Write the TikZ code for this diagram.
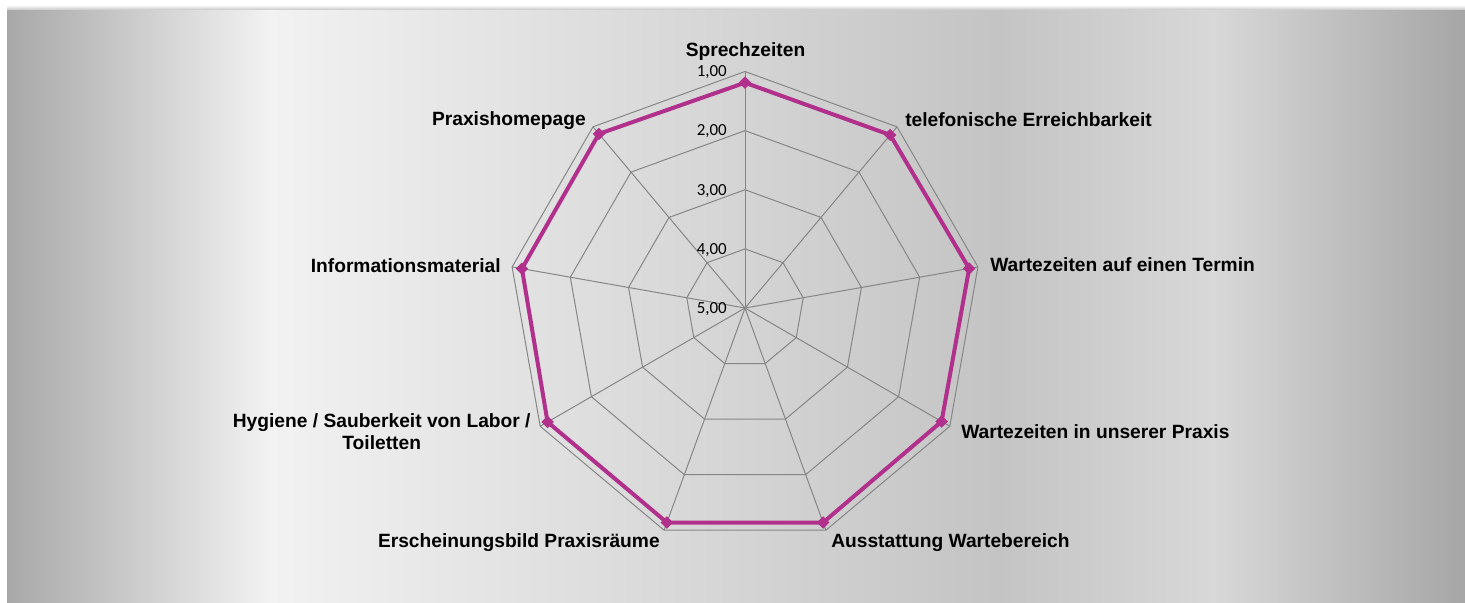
\documentclass[tikz,border=0pt]{standalone}
\usepackage{fontspec}
\setmainfont{Liberation Sans}
\newfontfamily\tickfont{Carlito}
\usetikzlibrary{shapes.geometric}

\definecolor{plotmag}{RGB}{176,48,140}
\definecolor{gridgray}{RGB}{134,134,134}
\definecolor{bgA}{RGB}{168,168,168}
\definecolor{bgB}{RGB}{242,242,242}
\definecolor{bgC}{RGB}{196,196,196}
\definecolor{bgD}{RGB}{216,216,216}
\definecolor{bgE}{RGB}{166,166,166}
\pgfdeclarehorizontalshading{chartbg}{100bp}{color(0bp)=(bgA); color(25bp)=(bgA); color(34bp)=(bgB); color(59bp)=(bgC); color(66.4bp)=(bgD); color(75bp)=(bgE); color(100bp)=(bgE)}

\begin{document}
\begin{tikzpicture}[x=0.75pt, y=-0.75pt,
  grid line/.style={draw=gridgray, line width=0.75pt},
  data line/.style={draw=plotmag, line width=3pt, line join=round},
  data mark/.style={diamond, fill=plotmag, inner sep=0pt, minimum size=9.5pt},
  cat label/.style={font=\bfseries\fontsize{14.4}{16.7}\selectfont, inner sep=0pt},
  tick label/.style={font=\tickfont\fontsize{12.7}{15}\selectfont, inner sep=0pt, anchor=base east}]
        \useasboundingbox (0,0) rectangle (1465,603);
        \fill[white] (0,0) rectangle (1465,603);
        \shade[top color=white, bottom color=bgC] (7,5) rectangle (1465,10);
        \shade[shading=chartbg] (7,10) rectangle (1465,603);

        \begin{scope}[shift={(745,308)}]
          \coordinate (c) at (0,0);
          \foreach \k in {0,...,8}
            \coordinate (s\k) at ({40*\k-90}:236.5);

          % spokes and rings
          \foreach \k in {0,...,8}
            \draw[grid line] (c) -- (s\k);
          \foreach \r in {1,...,4}
            \draw[grid line] (-90:\r*59.125) \foreach \k in {1,...,8} { -- ({40*\k-90}:\r*59.125) } -- cycle;

          \node[tick label] (t1) at (-18,-231.2) {1,00};
          \node[tick label] (t2) at (-18,-172.1) {2,00};
          \node[tick label] (t3) at (-18,-112.9) {3,00};
          \node[tick label] (t4) at (-18,-53.8) {4,00};
          \node[tick label] (t5) at (-18,5.3) {5,00};

          % data
          \coordinate (d0) at (-90:225.3);
          \coordinate (d1) at (-50:225.9);
          \coordinate (d2) at (-10:227.6);
          \coordinate (d3) at (30:227.0);
          \coordinate (d4) at (70:228.3);
          \coordinate (d5) at (110:228.3);
          \coordinate (d6) at (150:228.0);
          \coordinate (d7) at (190:226.5);
          \coordinate (d8) at (230:227.3);
          \draw[data line] (d0) -- (d1) -- (d2) -- (d3) -- (d4) -- (d5) -- (d6) -- (d7) -- (d8) -- cycle;
          \foreach \k in {0,...,8}
            \node[data mark] (m\k) at (d\k) {};
        \end{scope}

        \node[cat label, anchor=base] (sprech) at (745.5,56.7) {Sprechzeiten};
        \node[cat label, anchor=base west] (tel) at (905,126) {telefonische Erreichbarkeit};
        \node[cat label, anchor=base west] (termin) at (990,271.7) {Wartezeiten auf einen Termin};
        \node[cat label, anchor=base west] (praxis) at (961,438.3) {Wartezeiten in unserer Praxis};
        \node[cat label, anchor=base west] (ausst) at (831,547.7) {Ausstattung Wartebereich};
        \node[cat label, anchor=base east] (ersch) at (660,547.7) {Erscheinungsbild Praxisräume};
        \node[cat label, align=center] (hyg) at (381.7,432) {Hygiene / Sauberkeit von Labor /\\Toiletten};
        \node[cat label, anchor=base east] (info) at (501,272.3) {Informationsmaterial};
        \node[cat label, anchor=base east] (home) at (586,125.7) {Praxishomepage};
\end{tikzpicture}
\end{document}
